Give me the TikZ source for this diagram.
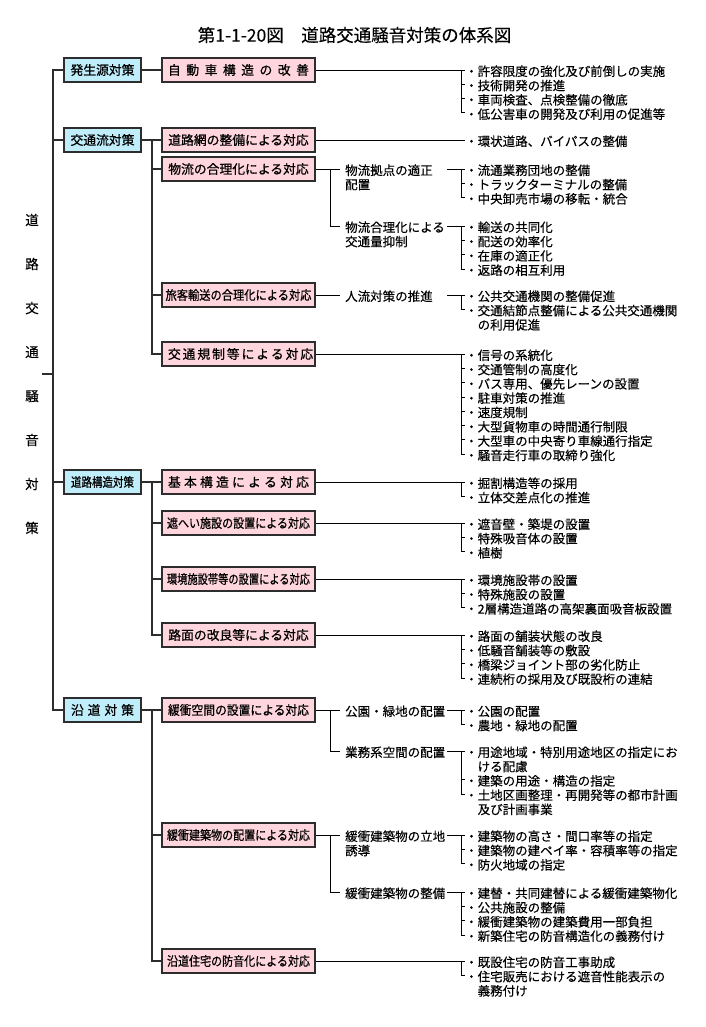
\documentclass[tikz,border=0pt]{standalone}
\usepackage{fontspec}
\setmainfont{Noto Sans CJK JP}
\newfontfamily\boxjp{Noto Sans CJK JP}[FakeBold=0.7]
\newfontfamily\leafjp{Noto Sans CJK JP}[FakeBold=0.25]
\usepackage{graphicx}
\usetikzlibrary{shadows}
\definecolor{bluebox}{RGB}{191,237,250}
\definecolor{pinkbox}{RGB}{255,214,222}
\definecolor{lineclr}{RGB}{45,45,45}
\newcommand\myfit[2]{\resizebox{#1}{\height}{#2}}
\newcommand\myspread[2]{\makebox[#1][s]{#2}}
\tikzset{
  catbox/.style={draw=lineclr, line width=1.2pt, fill=bluebox, minimum width=77pt, minimum height=24pt, inner sep=0pt,
    font=\boxjp\fontsize{12.8}{14}\selectfont,
    drop shadow={shadow xshift=1.4pt, shadow yshift=-1.4pt, fill=black!60, opacity=0.6}},
  measbox/.style={catbox, fill=pinkbox, minimum width=153pt},
  trunk/.style={draw=lineclr, line width=1.6pt},
  lnk/.style={draw=black, line width=0.8pt},
  leafnode/.style={anchor=west, inner xsep=0pt, inner ysep=0pt, text height=12pt, text depth=0pt, font=\leafjp\fontsize{12.5}{14.3}\selectfont},
  midlbl/.style={leafnode, text width=102pt},
}
\begin{document}
\begin{tikzpicture}[x=1pt,y=-1pt]
\useasboundingbox (0,0) rectangle (705,1027);
\fill[white] (0,0) rectangle (705,1027);

% title
\node[font=\leafjp\fontsize{17.5}{20}\selectfont] (title) at (354.5,35) {第1-1-20図　道路交通騒音対策の体系図};

% root label
\node[align=center, font=\leafjp\fontsize{13.5}{44}\selectfont, inner sep=3pt] (root) at (32,374) {道\\路\\交\\通\\騒\\音\\対\\策};
\coordinate (tx) at (53,0);
\coordinate (sx) at (152,0);
\coordinate (sx2) at (330,0);
\coordinate (bx) at (461,0);

% categories
\node[catbox] (c1) at (102.5,70) {発生源対策};
\node[catbox] (c2) at (102.5,140) {交通流対策};
\node[catbox] (c3) at (102.5,482) {\myfit{63pt}{道路構造対策}};
\node[catbox] (c4) at (102.5,710) {\myspread{63pt}{沿 道 対 策}};

% measures
\node[measbox] (b1) at (238.5,70) {\myspread{141pt}{自 動 車 構 造 の 改 善}};
\node[measbox] (b2) at (238.5,140) {道路網の整備による対応};
\node[measbox] (b3) at (238.5,169) {物流の合理化による対応};
\node[measbox] (b4) at (238.5,295) {\myfit{146pt}{旅客輸送の合理化による対応}};
\node[measbox] (b5) at (238.5,354) {\myspread{141pt}{交 通 規 制 等 に よ る 対 応}};
\node[measbox] (b6) at (238.5,482) {\myspread{141pt}{基 本 構 造 に よ る 対 応}};
\node[measbox] (b7) at (238.5,523) {\myfit{143pt}{遮へい施設の設置による対応}};
\node[measbox] (b8) at (238.5,579) {\myfit{143pt}{環境施設帯等の設置による対応}};
\node[measbox] (b9) at (238.5,635) {路面の改良等による対応};
\node[measbox] (b10) at (238.5,710) {\myfit{141pt}{緩衝空間の設置による対応}};
\node[measbox] (b11) at (238.5,835) {\myfit{143pt}{緩衝建築物の配置による対応}};
\node[measbox] (b12) at (238.5,961) {\myfit{143pt}{沿道住宅の防音化による対応}};

% left tree
\draw[trunk] (root.east) -- (root.east -| tx);
\draw[trunk] (c1.west) -- (c1.west -| tx) -- (c4.west -| tx) -- (c4.west);
\draw[trunk] (c2.west -| tx) -- (c2.west);
\draw[trunk] (c3.west -| tx) -- (c3.west);
\draw[trunk] (c1.east) -- (b1.west);
\draw[trunk] (c2.east) -- (b2.west);
\draw[trunk] (c3.east) -- (b6.west);
\draw[trunk] (c4.east) -- (b10.west);
\draw[trunk] (b2.west -| sx) -- (b5.west -| sx) -- (b5.west);
\foreach \n in {b3,b4} \draw[trunk] (\n.west -| sx) -- (\n.west);
\draw[trunk] (b6.west -| sx) -- (b9.west -| sx) -- (b9.west);
\foreach \n in {b7,b8} \draw[trunk] (\n.west -| sx) -- (\n.west);
\draw[trunk] (b10.west -| sx) -- (b12.west -| sx) -- (b12.west);
\draw[trunk] (b11.west -| sx) -- (b11.west);

% middle labels
\node[midlbl] (m1) at (345,169) {物流拠点の適正};
\node[leafnode] (m1b) at (345,183.3) {配置};
\node[midlbl] (m2) at (345,226) {物流合理化による};
\node[leafnode] (m2b) at (345,240.3) {交通量抑制};
\node[midlbl] (m3) at (345,295) {人流対策の推進};
\node[midlbl] (m4) at (345,710) {公園・緑地の配置};
\node[midlbl] (m5) at (345,751) {業務系空間の配置};
\node[midlbl] (m6) at (345,835) {緩衝建築物の立地};
\node[leafnode] (m6b) at (345,849.3) {誘導};
\node[midlbl] (m7) at (345,892) {緩衝建築物の整備};

\draw[lnk, shorten >=5pt] (b3.east) -- (m1.west);
\draw[lnk] (b3.east -| sx2) -- (m2.west -| sx2) -- ([xshift=-5pt]m2.west);
\draw[lnk, shorten >=5pt] (b4.east) -- (m3.west);
\draw[lnk, shorten >=5pt] (b10.east) -- (m4.west);
\draw[lnk] (b10.east -| sx2) -- (m5.west -| sx2) -- ([xshift=-5pt]m5.west);
\draw[lnk, shorten >=5pt] (b11.east) -- (m6.west);
\draw[lnk] (b11.east -| sx2) -- (m7.west -| sx2) -- ([xshift=-5pt]m7.west);

% leaves
\node[leafnode] (a1) at (465,70) {・許容限度の強化及び前倒しの実施};
\node[leafnode] (a2) at (465,84.3) {・技術開発の推進};
\node[leafnode] (a3) at (465,98.6) {・車両検査、点検整備の徹底};
\node[leafnode] (a4) at (465,112.9) {・低公害車の開発及び利用の促進等};

\node[leafnode] (e1) at (465,140) {・環状道路、バイパスの整備};

\node[leafnode] (f1) at (465,169) {・流通業務団地の整備};
\node[leafnode] (f2) at (465,183.3) {・トラックターミナルの整備};
\node[leafnode] (f3) at (465,197.6) {・中央卸売市場の移転・統合};

\node[leafnode] (g1) at (465,226) {・輸送の共同化};
\node[leafnode] (g2) at (465,240.3) {・配送の効率化};
\node[leafnode] (g3) at (465,254.6) {・在庫の適正化};
\node[leafnode] (g4) at (465,268.9) {・返路の相互利用};

\node[leafnode] (h1) at (465,295) {・公共交通機関の整備促進};
\node[leafnode] (h2) at (465,309.3) {・交通結節点整備による公共交通機関};
\node[leafnode] (h2b) at (477.5,323.6) {の利用促進};

\node[leafnode] (i1) at (465,354) {・信号の系統化};
\node[leafnode] (i2) at (465,368.3) {・交通管制の高度化};
\node[leafnode] (i3) at (465,382.6) {・バス専用、優先レーンの設置};
\node[leafnode] (i4) at (465,396.9) {・駐車対策の推進};
\node[leafnode] (i5) at (465,411.2) {・速度規制};
\node[leafnode] (i6) at (465,425.5) {・大型貨物車の時間通行制限};
\node[leafnode] (i7) at (465,439.8) {・大型車の中央寄り車線通行指定};
\node[leafnode] (i8) at (465,454.1) {・騒音走行車の取締り強化};

\node[leafnode] (j1) at (465,482) {・掘割構造等の採用};
\node[leafnode] (j2) at (465,496.3) {・立体交差点化の推進};

\node[leafnode] (k1) at (465,523) {・遮音壁・築堤の設置};
\node[leafnode] (k2) at (465,537.3) {・特殊吸音体の設置};
\node[leafnode] (k3) at (465,551.6) {・植樹};

\node[leafnode] (l1) at (465,579) {・環境施設帯の設置};
\node[leafnode] (l2) at (465,593.3) {・特殊施設の設置};
\node[leafnode] (l3) at (465,607.6) {・2層構造道路の高架裏面吸音板設置};

\node[leafnode] (n1) at (465,635) {・路面の舗装状態の改良};
\node[leafnode] (n2) at (465,649.3) {・低騒音舗装等の敷設};
\node[leafnode] (n3) at (465,663.6) {・橋梁ジョイント部の劣化防止};
\node[leafnode] (n4) at (465,677.9) {・連続桁の採用及び既設桁の連結};

\node[leafnode] (p1) at (465,710) {・公園の配置};
\node[leafnode] (p2) at (465,724.3) {・農地・緑地の配置};

\node[leafnode] (q1) at (465,751) {・用途地域・特別用途地区の指定にお};
\node[leafnode] (q1b) at (477.5,765.3) {ける配慮};
\node[leafnode] (q2) at (465,779.6) {・建築の用途・構造の指定};
\node[leafnode] (q3) at (465,793.9) {・土地区画整理・再開発等の都市計画};
\node[leafnode] (q3b) at (477.5,808.2) {及び計画事業};

\node[leafnode] (r1) at (465,835) {・建築物の高さ・間口率等の指定};
\node[leafnode] (r2) at (465,849.3) {・建築物の建ペイ率・容積率等の指定};
\node[leafnode] (r3) at (465,863.6) {・防火地域の指定};

\node[leafnode] (s1) at (465,892) {・建替・共同建替による緩衝建築物化};
\node[leafnode] (s2) at (465,906.3) {・公共施設の整備};
\node[leafnode] (s3) at (465,920.6) {・緩衝建築物の建築費用一部負担};
\node[leafnode] (s4) at (465,934.9) {・新築住宅の防音構造化の義務付け};

\node[leafnode] (t1) at (465,961) {・既設住宅の防音工事助成};
\node[leafnode] (t2) at (465,975.3) {・住宅販売における遮音性能表示の};
\node[leafnode] (t2b) at (477.5,989.6) {義務付け};

% leaf connectors
\draw[lnk] (b1.east) -- (a1.west);
\draw[lnk] (a1.west -| bx) -- (a4.west -| bx) -- (a4.west);
\foreach \n in {a2,a3} \draw[lnk] (\n.west -| bx) -- (\n.west);

\draw[lnk] (b2.east) -- (e1.west);

\draw[lnk] (m1.east) -- (f1.west);
\draw[lnk] (f1.west -| bx) -- (f3.west -| bx) -- (f3.west);
\draw[lnk] (f2.west -| bx) -- (f2.west);

\draw[lnk] (m2.east) -- (g1.west);
\draw[lnk] (g1.west -| bx) -- (g4.west -| bx) -- (g4.west);
\foreach \n in {g2,g3} \draw[lnk] (\n.west -| bx) -- (\n.west);

\draw[lnk] (m3.east) -- (h1.west);
\draw[lnk] (h1.west -| bx) -- (h2.west -| bx) -- (h2.west);

\draw[lnk] (b5.east) -- (i1.west);
\draw[lnk] (i1.west -| bx) -- (i8.west -| bx) -- (i8.west);
\foreach \n in {i2,i3,i4,i5,i6,i7} \draw[lnk] (\n.west -| bx) -- (\n.west);

\draw[lnk] (b6.east) -- (j1.west);
\draw[lnk] (j1.west -| bx) -- (j2.west -| bx) -- (j2.west);

\draw[lnk] (b7.east) -- (k1.west);
\draw[lnk] (k1.west -| bx) -- (k3.west -| bx) -- (k3.west);
\draw[lnk] (k2.west -| bx) -- (k2.west);

\draw[lnk] (b8.east) -- (l1.west);
\draw[lnk] (l1.west -| bx) -- (l3.west -| bx) -- (l3.west);
\draw[lnk] (l2.west -| bx) -- (l2.west);

\draw[lnk] (b9.east) -- (n1.west);
\draw[lnk] (n1.west -| bx) -- (n4.west -| bx) -- (n4.west);
\foreach \n in {n2,n3} \draw[lnk] (\n.west -| bx) -- (\n.west);

\draw[lnk] (m4.east) -- (p1.west);
\draw[lnk] (p1.west -| bx) -- (p2.west -| bx) -- (p2.west);

\draw[lnk] (m5.east) -- (q1.west);
\draw[lnk] (q1.west -| bx) -- (q3.west -| bx) -- (q3.west);
\draw[lnk] (q2.west -| bx) -- (q2.west);

\draw[lnk] (m6.east) -- (r1.west);
\draw[lnk] (r1.west -| bx) -- (r3.west -| bx) -- (r3.west);
\draw[lnk] (r2.west -| bx) -- (r2.west);

\draw[lnk] (m7.east) -- (s1.west);
\draw[lnk] (s1.west -| bx) -- (s4.west -| bx) -- (s4.west);
\foreach \n in {s2,s3} \draw[lnk] (\n.west -| bx) -- (\n.west);

\draw[lnk] (b12.east) -- (t1.west);
\draw[lnk] (t1.west -| bx) -- (t2.west -| bx) -- (t2.west);
\end{tikzpicture}
\end{document}
